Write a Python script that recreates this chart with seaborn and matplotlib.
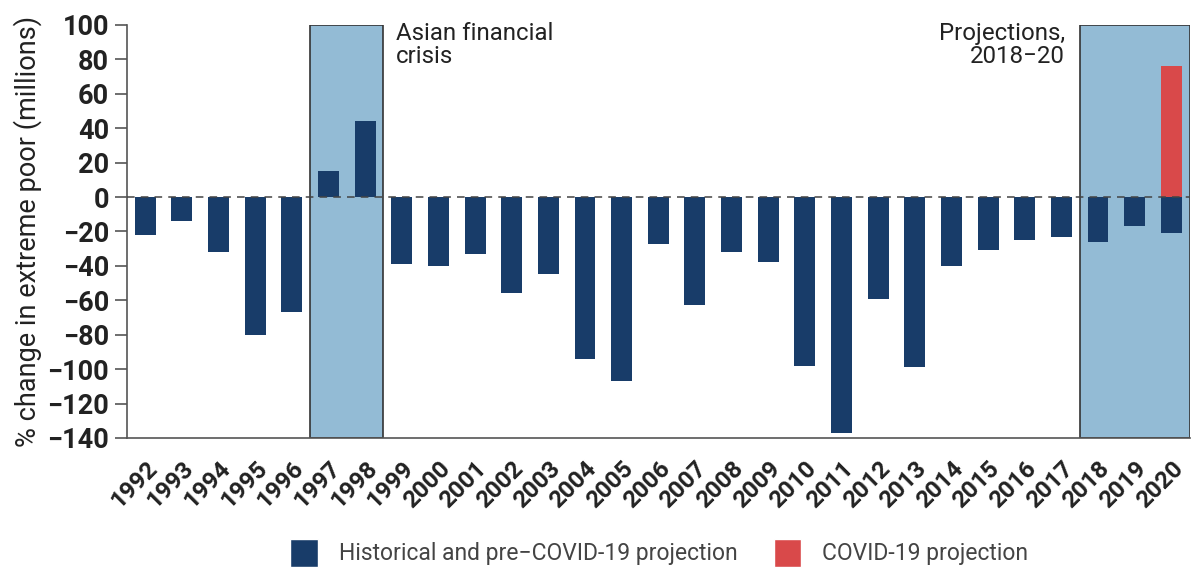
import numpy as np
import pandas as pd
import matplotlib
matplotlib.use("Agg")
import matplotlib.pyplot as plt
import seaborn as sns
from matplotlib.patches import Patch, Rectangle

years = [str(y) for y in range(1992, 2021)]
historical = [-22, -14, -32, -80, -67, 15, 44, -39, -40, -33, -56, -45, -94, -107,
              -27, -63, -32, -38, -98, -137, -59, -99, -40, -31, -25, -23, -26, -17, -21]
covid_year = ["2020"]
covid_values = [76]

hist_label = "Historical and pre\u2212COVID-19 projection"
covid_label = "COVID-19 projection"

DARK_BLUE = "#183c69"
LIGHT_BLUE = "#93bbd5"
RED = "#d9494a"
TEXT = "#222222"

sns.set_theme(style="white")
plt.rcParams["font.family"] = ["Roboto", "DejaVu Sans"]

df = pd.concat([
    pd.DataFrame({"year": years, "value": historical, "series": hist_label}),
    pd.DataFrame({"year": covid_year, "value": covid_values, "series": covid_label}),
])

fig = plt.figure(figsize=(11.92, 5.68), dpi=100)
ax = fig.add_axes([0.1065, 0.229, 0.8915, 0.727])

# shaded periods: Asian financial crisis and projections
for start, end in [("1997", "1998"), ("2018", "2020")]:
    i0, i1 = years.index(start), years.index(end)
    ax.add_patch(Rectangle((i0 - 0.5, -140), i1 - i0 + 1, 240, facecolor=LIGHT_BLUE,
                           edgecolor="#333333", linewidth=1.2, zorder=0))

sns.barplot(data=df, x="year", y="value", hue="series", order=years, dodge=False,
            palette={hist_label: DARK_BLUE, covid_label: RED}, width=0.57,
            saturation=1, legend=False, ax=ax, zorder=2, linewidth=0, edgecolor="none")

ax.axhline(0, color="#444444", linestyle=(0, (5, 4)), linewidth=1.1, zorder=3)

ax.set_xlim(-0.5, len(years) - 0.5)
ax.set_ylim(-140, 100)
ax.set_yticks(range(-140, 101, 20))
ax.set_yticklabels([f"{v}".replace("-", "\u2212") for v in range(-140, 101, 20)],
                   fontsize=19.5, fontweight="bold", color=TEXT)
ax.set_xticks(range(len(years)))
ax.set_xticklabels(years, rotation=45, ha="right", rotation_mode="anchor",
                   fontsize=17.5, fontweight="bold", color=TEXT)
ax.set_xticks(np.arange(-0.5, len(years), 1), minor=True)
ax.tick_params(axis="x", which="major", length=0, pad=14)
ax.tick_params(axis="x", which="minor", length=9, width=1.2, color="#555555")
ax.tick_params(axis="y", length=9, width=1.2, color="#555555", pad=4, left=True)
ax.set_xlabel("")
ax.set_ylabel("% change in extreme poor (millions)", fontsize=19.5, color=TEXT, labelpad=4)

for side in ["top", "right"]:
    ax.spines[side].set_visible(False)
for side in ["left", "bottom"]:
    ax.spines[side].set_color("#555555")
    ax.spines[side].set_linewidth(1.2)

ax.text(years.index("1998") + 0.85, 101.5, "Asian financial\ncrisis", fontsize=17.3,
        color=TEXT, va="top", ha="left", linespacing=1.0)
ax.text(years.index("2018") - 0.9, 101.5, "Projections,\n2018\u221220", fontsize=17.3,
        color=TEXT, va="top", ha="right", linespacing=1.0)

handles = [Patch(facecolor=DARK_BLUE, label=hist_label),
           Patch(facecolor=RED, label=covid_label)]
fig.legend(handles=handles, loc="center", bbox_to_anchor=(0.553, 0.027), ncol=2,
           frameon=False, fontsize=16.5, labelcolor="#444444", handlelength=1.2,
           handleheight=1.5, handletextpad=0.9, columnspacing=1.6)

fig.savefig("out.png", dpi=100)
